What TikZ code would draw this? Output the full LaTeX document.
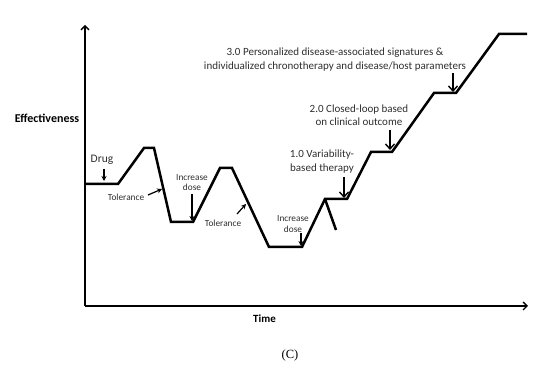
\documentclass[tikz,border=0pt]{standalone}
\usepackage{fontspec}
\setmainfont{Carlito}
\newfontfamily\capserif{Liberation Serif}
\usetikzlibrary{arrows.meta}
\definecolor{txt}{HTML}{2E2E2E}
\tikzset{
  axisline/.style={line width=1.6pt, -{Straight Barb[length=4pt,width=8pt,line width=1.4pt]}},
  curveline/.style={line width=2.5pt, line join=miter},
  smallarrow/.style={line width=1.2pt, -{Stealth[length=5pt,width=5pt]}},
  bigarrow/.style={line width=1.6pt, -{Straight Barb[length=5pt,width=9pt,line width=1.4pt]}},
  smalllbl/.style={text=txt, align=center, inner sep=0pt, font=\fontsize{9.3}{10.5}\selectfont},
  midlbl/.style={text=txt, align=center, inner sep=0pt, font=\fontsize{11}{13.5}\selectfont},
  boldlbl/.style={text=black, inner sep=0pt, font=\bfseries\fontsize{12}{14}\selectfont},
}
\begin{document}
\begin{tikzpicture}[x=1pt,y=-1pt]
\useasboundingbox (0,0) rectangle (550,371);
% axes
\coordinate (origin) at (85,306);
\coordinate (ytop) at (85,25);
\coordinate (xend) at (528,306);
\draw[axisline] (origin) -- (ytop);
\draw[axisline] (origin) -- (xend);
% curve points
\coordinate (c0) at (85,184);
\coordinate (c1) at (118,184);
\coordinate (c2) at (144,148);
\coordinate (c3) at (154,148);
\coordinate (c4) at (171,222);
\coordinate (c5) at (193,222);
\coordinate (c6) at (220,168);
\coordinate (c7) at (232,168);
\coordinate (c8) at (269,247);
\coordinate (c9) at (302,247);
\coordinate (c10) at (325,199);
\coordinate (c11) at (347,199);
\coordinate (c12) at (371,152);
\coordinate (c13) at (392,152);
\coordinate (c14) at (434,93);
\coordinate (c15) at (456,93);
\coordinate (c16) at (499,34);
\coordinate (c17) at (527,34);
\coordinate (cb) at (336,230);
\draw[curveline] (c0) -- (c1) -- (c2) -- (c3) -- (c4) -- (c5) -- (c6) -- (c7) -- (c8) -- (c9) -- (c10) -- (c11) -- (c12) -- (c13) -- (c14) -- (c15) -- (c16) -- (c17);
\draw[curveline] (c10) -- (cb);
% axis labels
\node[boldlbl] (eff) at (47,118) {Effectiveness};
\node[boldlbl, font=\bfseries\fontsize{11}{13}\selectfont] (time) at (264.5,319) {Time};
\node[font=\capserif\fontsize{12.5}{14}\selectfont, inner sep=0pt] (cap) at (290,355) {(C)};
% labels
\node[midlbl, font=\fontsize{11.5}{13}\selectfont] (drug) at (102,160) {Drug};
\coordinate (drugS) at (104,169); \coordinate (drugE) at (104,181);
\draw[smallarrow] (drugS) -- (drugE);
\node[smalllbl] (tol1) at (126,197) {Tolerance};
\coordinate (t1S) at (148,195); \coordinate (t1E) at (162,189);
\draw[smallarrow] (t1S) -- (t1E);
\node[smalllbl] (inc1) at (192,182.5) {Increase\\dose};
\coordinate (i1S) at (192,194); \coordinate (i1E) at (192,221);
\draw[smallarrow] (i1S) -- (i1E);
\node[smalllbl] (tol2) at (223,223) {Tolerance};
\coordinate (t2S) at (237,214); \coordinate (t2E) at (246,204);
\draw[smallarrow] (t2S) -- (t2E);
\node[smalllbl] (inc2) at (293,224) {Increase\\dose};
\coordinate (i2S) at (301,233); \coordinate (i2E) at (301,246);
\draw[smallarrow] (i2S) -- (i2E);
\node[midlbl] (v1) at (322,161.5) {1.0 Variability-\\based therapy};
\coordinate (v1S) at (344,177); \coordinate (v1E) at (344,198);
\draw[bigarrow] (v1S) -- (v1E);
\node[midlbl] (v2) at (359,115) {2.0 Closed-loop based\\on clinical outcome};
\coordinate (v2S) at (390,130); \coordinate (v2E) at (390,150);
\draw[bigarrow] (v2S) -- (v2E);
\node[midlbl] (v3) at (335,59.5) {3.0 Personalized disease-associated signatures \&\\individualized chronotherapy and disease/host parameters};
\coordinate (v3S) at (453,73); \coordinate (v3E) at (453,92);
\draw[bigarrow] (v3S) -- (v3E);
\end{tikzpicture}
\end{document}
